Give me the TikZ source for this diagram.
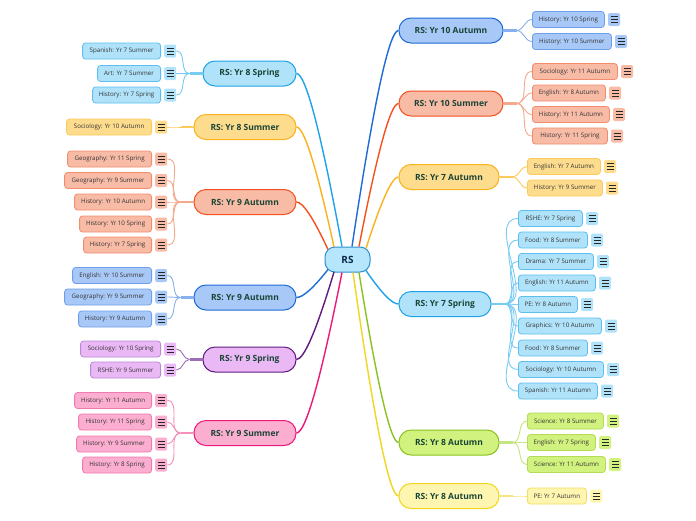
\documentclass[tikz,border=0pt]{standalone}
\usepackage{fontspec}
\setmainfont{Open Sans}
\usetikzlibrary{calc}
% colour families: L line, F fill, B leaf border, W leaf line
\definecolor{bDL}{HTML}{1E6BD6}\definecolor{bDF}{HTML}{A8C8F7}\definecolor{bDB}{HTML}{6E9FEA}\definecolor{bDW}{HTML}{86B0EE}
\definecolor{orL}{HTML}{F4511E}\definecolor{orF}{HTML}{F8BBA6}\definecolor{orB}{HTML}{F28C6C}\definecolor{orW}{HTML}{F6A88C}
\definecolor{amL}{HTML}{FBB21C}\definecolor{amF}{HTML}{FEDC8E}\definecolor{amB}{HTML}{FCCA58}\definecolor{amW}{HTML}{FCCB5C}
\definecolor{skL}{HTML}{1EA3E8}\definecolor{skF}{HTML}{B0E3FA}\definecolor{skB}{HTML}{5DBFF0}\definecolor{skW}{HTML}{78CBF3}
\definecolor{grL}{HTML}{8BC220}\definecolor{grF}{HTML}{D1F27E}\definecolor{grB}{HTML}{B4DC55}\definecolor{grW}{HTML}{C4E582}
\definecolor{yeL}{HTML}{F2D51C}\definecolor{yeF}{HTML}{FEF5B0}\definecolor{yeB}{HTML}{F4DE63}\definecolor{yeW}{HTML}{F7E57E}
\definecolor{puL}{HTML}{5E1A80}\definecolor{puF}{HTML}{EAB8F5}\definecolor{puB}{HTML}{B88AD3}\definecolor{puW}{HTML}{9C6FB5}
\definecolor{pkL}{HTML}{EE1877}\definecolor{pkF}{HTML}{FCAED0}\definecolor{pkB}{HTML}{F07AAE}\definecolor{pkW}{HTML}{F48FBC}
\definecolor{rsF}{HTML}{B6E6FB}\definecolor{rsB}{HTML}{2E8FCF}\definecolor{rsT}{HTML}{0D2A4A}
\definecolor{maintext}{HTML}{1A4536}\definecolor{leaftext}{HTML}{333333}
\tikzset{
  mainbox/.style={draw=#1L, fill=#1F, line width=1pt, rounded corners=12pt, minimum height=25pt, inner sep=0pt,
    font=\fontsize{8.5}{10}\selectfont\bfseries, text=maintext},
  leafbox/.style={draw=#1B, fill=#1F, line width=0.8pt, rounded corners=3pt, minimum height=16pt, inner sep=0pt,
    font=\fontsize{6.2}{7}\selectfont, text=leaftext},
  menuicon/.style={fill=#1F, rounded corners=2pt, minimum width=12pt, minimum height=13pt, inner sep=0pt,
    path picture={\foreach \k in {-3,0,3}{\draw[line width=0.9pt, black!85, sharp corners]
      ([xshift=-3.5pt,yshift=\k pt]path picture bounding box.center) -- ++(7pt,0);}}},
  trunk/.style={draw=#1L, line width=1.4pt},
  twig/.style={draw=#1W, line width=0.9pt},
  stub/.style={draw=#1W, line width=2.2pt},
}
\newcommand\leafLeft[7]{%
  \node[leafbox=#1, anchor=east, minimum width=#6pt] (#2) at (#4,#5) {#7};
  \node[menuicon=#1, anchor=west] (#2i) at ([xshift=3pt]#2.east) {};
  \draw[twig=#1] (#3) to[out=180,in=0] (#2i.east);}
\newcommand\leafRight[7]{%
  \node[leafbox=#1, anchor=west, minimum width=#6pt] (#2) at (#4,#5) {#7};
  \node[menuicon=#1, anchor=west] (#2i) at ([xshift=3pt]#2.east) {};
  \draw[twig=#1] (#3) to[out=0,in=180] (#2.west);}
% quadratic curve from a start point to a main node, control point on the target's level
\newcommand\trunkTo[3]{%
  \coordinate (#2q) at ($(#2 |- #3)!0.7!(#3)$);
  \draw[trunk=#1] (#2) .. controls ($(#2)!0.667!(#2q)$) and ($(#3)!0.667!(#2q)$) .. (#3);}
\begin{document}
\begin{tikzpicture}[x=1pt,y=-1pt]
\fill[white] (0,0) rectangle (696,520);
\useasboundingbox (0,0) rectangle (696,520);

\node[draw=rsB, fill=rsF, line width=1pt, rounded corners=10pt, minimum width=45pt, minimum height=25pt,
  inner sep=0pt, font=\fontsize{10}{12}\selectfont\bfseries, text=rsT] (rs) at (347.5,259.5) {RS};

% start points on the centre node
\coordinate (t1) at ([xshift=-19.5pt,yshift=-3pt]rs.north);
\coordinate (t2) at ([xshift=-13.5pt,yshift=-0.5pt]rs.north);
\coordinate (t3) at ([xshift=-5.5pt]rs.north);
\coordinate (t4) at ([xshift=4.5pt]rs.north);
\coordinate (t5) at ([xshift=11.5pt]rs.north);
\coordinate (t6) at ([xshift=18.5pt,yshift=-2pt]rs.north);
\coordinate (b1) at ([xshift=-19.5pt,yshift=3pt]rs.south);
\coordinate (b2) at ([xshift=-13.5pt,yshift=0.5pt]rs.south);
\coordinate (b3) at ([xshift=-5.5pt]rs.south);
\coordinate (b4) at ([xshift=5.5pt]rs.south);
\coordinate (b5) at ([xshift=11.5pt]rs.south);
\coordinate (b6) at ([xshift=18.5pt,yshift=2pt]rs.south);

% ---------- left side ----------
\node[mainbox=sk, minimum width=93pt] (m1) at (249.5,73.5) {RS: Yr 8 Spring};
\node[mainbox=am, minimum width=102pt] (m2) at (245,127) {RS: Yr 8 Summer};
\node[mainbox=or, minimum width=102pt] (m3) at (245,202) {RS: Yr 9 Autumn};
\node[mainbox=bD, minimum width=102pt] (m4) at (245,297.5) {RS: Yr 9 Autumn};
\node[mainbox=pu, minimum width=93pt] (m5) at (249.5,359.5) {RS: Yr 9 Spring};
\node[mainbox=pk, minimum width=102pt] (m6) at (245,433) {RS: Yr 9 Summer};

\trunkTo{sk}{t3}{m1.east}
\trunkTo{am}{t2}{m2.east}
\trunkTo{or}{t1}{m3.east}
\trunkTo{bD}{b1}{m4.east}
\trunkTo{pu}{b2}{m5.east}
\trunkTo{pk}{b3}{m6.east}

\foreach \m/\f in {m1/sk,m2/am,m3/or,m4/bD,m5/pu,m6/pk}{
  \coordinate (\m b) at ([xshift=-13pt]\m.west);
  \draw[stub=\f] (\m.west) -- (\m b);
}

\leafLeft{sk}{a1}{m1b}{161}{51}{78}{Spanish: Yr 7 Summer}
\leafLeft{sk}{a2}{m1b}{161}{73.5}{63}{Art: Yr 7 Summer}
\leafLeft{sk}{a3}{m1b}{161}{95}{68}{History: Yr 7 Spring}

\leafLeft{am}{c1}{m2b}{152}{127}{85}{Sociology: Yr 10 Autumn}

\leafLeft{or}{d1}{m3b}{152}{159}{84}{Geography: Yr 11 Spring}
\leafLeft{or}{d2}{m3b}{152}{180.5}{87}{Geography: Yr 9 Summer}
\leafLeft{or}{d3}{m3b}{152}{202}{77}{History: Yr 10 Autumn}
\leafLeft{or}{d4}{m3b}{152}{224}{72}{History: Yr 10 Spring}
\leafLeft{or}{d5}{m3b}{152}{245}{68}{History: Yr 7 Spring}

\leafLeft{bD}{e1}{m4b}{152}{275.5}{79}{English: Yr 10 Summer}
\leafLeft{bD}{e2}{m4b}{152}{297}{87}{Geography: Yr 9 Summer}
\leafLeft{bD}{e3}{m4b}{152}{319}{73}{History: Yr 9 Autumn}

\leafLeft{pu}{f1}{m5b}{161}{349}{80}{Sociology: Yr 10 Spring}
\leafLeft{pu}{f2}{m5b}{161}{370}{70}{RSHE: Yr 9 Summer}

\leafLeft{pk}{g1}{m6b}{152}{400.5}{77}{History: Yr 11 Autumn}
\leafLeft{pk}{g2}{m6b}{152}{422}{73}{History: Yr 11 Spring}
\leafLeft{pk}{g3}{m6b}{152}{444}{75}{History: Yr 9 Summer}
\leafLeft{pk}{g4}{m6b}{152}{465}{69}{History: Yr 8 Spring}

% ---------- right side ----------
\node[mainbox=bD, minimum width=104pt] (r1) at (451,30.5) {RS: Yr 10 Autumn};
\node[mainbox=or, minimum width=104pt] (r2) at (451,103.5) {RS: Yr 10 Summer};
\node[mainbox=am, minimum width=100pt] (r3) at (449,177) {RS: Yr 7 Autumn};
\node[mainbox=sk, minimum width=92pt] (r4) at (445,304) {RS: Yr 7 Spring};
\node[mainbox=gr, minimum width=100pt] (r5) at (449,442.5) {RS: Yr 8 Autumn};
\node[mainbox=ye, minimum width=100pt] (r6) at (449,496) {RS: Yr 8 Autumn};

\trunkTo{bD}{t4}{r1.west}
\trunkTo{or}{t5}{r2.west}
\trunkTo{am}{t6}{r3.west}
\trunkTo{sk}{b6}{r4.west}
\trunkTo{gr}{b5}{r5.west}
\trunkTo{ye}{b4}{r6.west}

\foreach \m/\f in {r1/bD,r2/or,r3/am,r4/sk,r5/gr,r6/ye}{
  \coordinate (\m b) at ([xshift=13pt]\m.east);
  \draw[stub=\f] (\m.east) -- (\m b);
}

\leafRight{bD}{h1}{r1b}{532}{19.5}{72}{History: Yr 10 Spring}
\leafRight{bD}{h2}{r1b}{532}{41.5}{79}{History: Yr 10 Summer}

\leafRight{or}{j1}{r2b}{532}{71.5}{85}{Sociology: Yr 11 Autumn}
\leafRight{or}{j2}{r2b}{532}{93}{73}{English: Yr 8 Autumn}
\leafRight{or}{j3}{r2b}{532}{114.5}{77}{History: Yr 11 Autumn}
\leafRight{or}{j4}{r2b}{532}{136}{75}{History: Yr 11 Spring}

\leafRight{am}{k1}{r3b}{527}{166.5}{73}{English: Yr 7 Autumn}
\leafRight{am}{k2}{r3b}{527}{188}{75}{History: Yr 9 Summer}

\leafRight{sk}{n1}{r4b}{518}{218.5}{64}{RSHE: Yr 7 Spring}
\leafRight{sk}{n2}{r4b}{518}{240}{69}{Food: Yr 8 Summer}
\leafRight{sk}{n3}{r4b}{518}{261.5}{75}{Drama: Yr 7 Summer}
\leafRight{sk}{n4}{r4b}{518}{283}{77}{English: Yr 11 Autumn}
\leafRight{sk}{n5}{r4b}{518}{304.5}{59}{PE: Yr 8 Autumn}
\leafRight{sk}{n6}{r4b}{518}{326}{83}{Graphics: Yr 10 Autumn}
\leafRight{sk}{n7}{r4b}{518}{348}{69}{Food: Yr 8 Summer}
\leafRight{sk}{n8}{r4b}{518}{369.5}{85}{Sociology: Yr 10 Autumn}
\leafRight{sk}{n9}{r4b}{518}{391}{79}{Spanish: Yr 11 Autumn}

\leafRight{gr}{p1}{r5b}{527}{421}{76}{Science: Yr 8 Summer}
\leafRight{gr}{p2}{r5b}{527}{442.5}{68}{English: Yr 7 Spring}
\leafRight{gr}{p3}{r5b}{527}{464.5}{78}{Science: Yr 11 Autumn}

\leafRight{ye}{q1}{r6b}{527}{496}{59}{PE: Yr 7 Autumn}
\end{tikzpicture}
\end{document}
